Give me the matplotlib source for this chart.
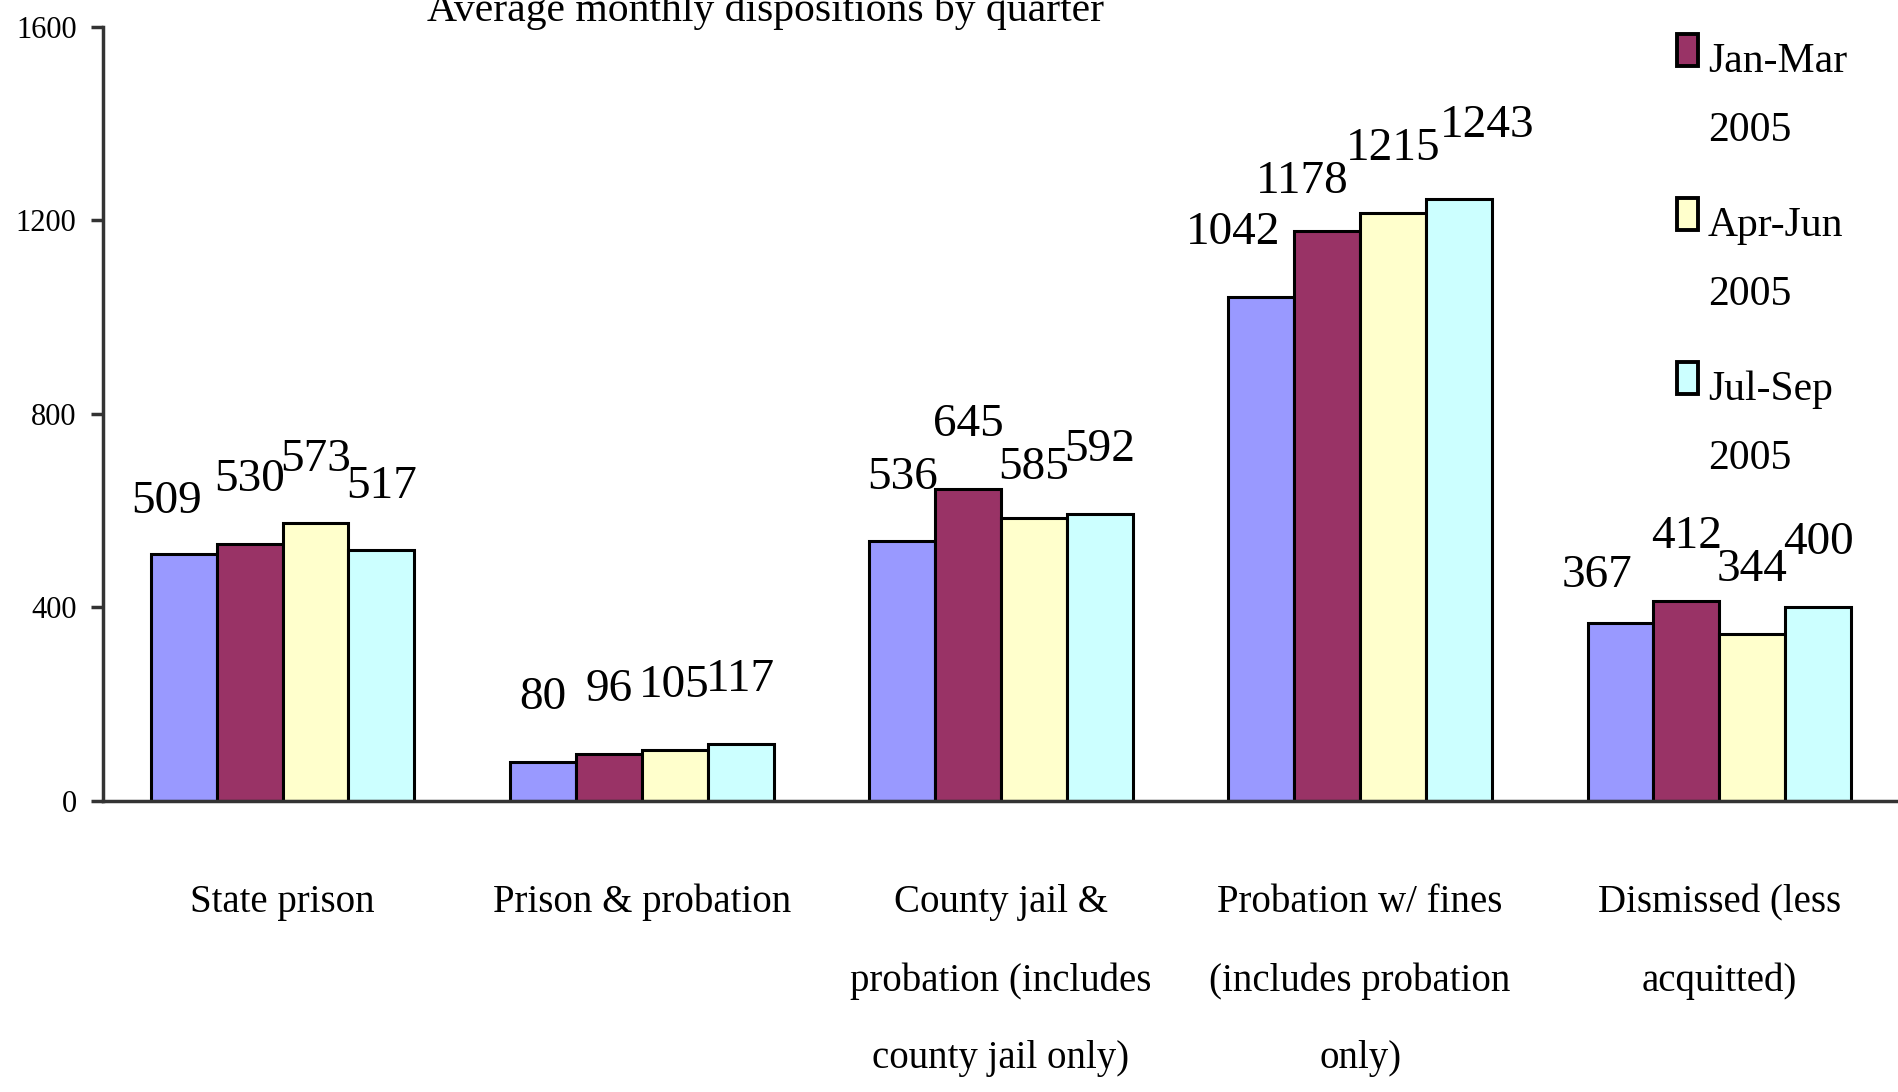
import matplotlib
matplotlib.use('Agg')
import matplotlib.pyplot as plt
import numpy as np
from matplotlib.patches import Rectangle

# Data
categories = ['State prison', 'Prison & probation',
              'County jail &\nprobation (includes\ncounty jail only)',
              'Probation w/ fines\n(includes probation\nonly)',
              'Dismissed (less\nacquitted)']
series_names = ['Oct-Dec\n2004', 'Jan-Mar\n2005', 'Apr-Jun\n2005', 'Jul-Sep\n2005']
oct_dec_2004 = [509, 80, 536, 1042, 367]
jan_mar_2005 = [530, 96, 645, 1178, 412]
apr_jun_2005 = [573, 105, 585, 1215, 344]
jul_sep_2005 = [517, 117, 592, 1243, 400]
y_ticks = [0, 400, 800, 1200, 1600]

series = [oct_dec_2004, jan_mar_2005, apr_jun_2005, jul_sep_2005]
colors = ['#9999FF', '#993366', '#FFFFCC', '#CCFFFF']

# label nudges (points) where the original labels were moved to avoid overlap
nudges = {(0, 0): (-12, -8), (0, 3): (-20, 0), (1, 3): (-18, -11),
          (3, 3): (20, 7), (2, 2): (0, -10), (0, 4): (-17, -12)}

plt.rcParams['font.family'] = ['Liberation Serif', 'DejaVu Serif']

W, H = 1899, 1092
fig = plt.figure(figsize=(W / 100, H / 100), dpi=100)
ax = fig.add_axes([0.0542, 0.2669, 0.9458, 0.7087])

x = np.arange(len(categories))
width = 0.1835
for i, vals in enumerate(series):
    offs = (i - 1.5) * width
    bars = ax.bar(x + offs, vals, width, color=colors[i], edgecolor='black',
                  linewidth=2.2, label=series_names[i])
    for j, b in enumerate(bars):
        dx, dy = nudges.get((i, j), (0, 0))
        ax.annotate(str(vals[j]), (b.get_x() + b.get_width() / 2, b.get_height()),
                    xytext=(dx, 38 + dy), textcoords='offset points',
                    ha='center', va='baseline', fontsize=34)

ax.set_xlim(-0.5, 4.5)
ax.set_ylim(0, 1600)
ax.set_yticks(y_ticks)
ax.set_yticklabels([str(t) for t in y_ticks], fontsize=22)
ax.set_xticks(x)
ax.set_xticklabels(categories, fontsize=28, linespacing=2.45)
ax.tick_params(axis='x', length=0, pad=60)
ax.tick_params(axis='y', length=9, width=2.5, color='#333333', pad=10)

for s in ['top', 'right']:
    ax.spines[s].set_visible(False)
for s in ['left', 'bottom']:
    ax.spines[s].set_color('#333333')
    ax.spines[s].set_linewidth(2.5)
ax.spines['left'].set_zorder(5)

fig.text(0.403, 0.981, 'Average monthly dispositions by quarter',
         ha='center', va='baseline', fontsize=30)

# legend (first series entry sits above the canvas in the original)
entry_baselines = [72, 236, 400]
for k, i in enumerate(range(1, 4)):
    base = entry_baselines[k]
    fig.add_artist(Rectangle((1677 / W, 1 - (base - 38) / H), 21 / W, -32 / H,
                             transform=fig.transFigure, facecolor=colors[i],
                             edgecolor='black', linewidth=2.8))
    first, second = series_names[i].split('\n')
    fig.text(1708 / W, 1 - base / H, first, ha='left', va='baseline', fontsize=30)
    fig.text(1708 / W, 1 - (base + 69) / H, second, ha='left', va='baseline', fontsize=30)

plt.savefig('out.png', dpi=100)
